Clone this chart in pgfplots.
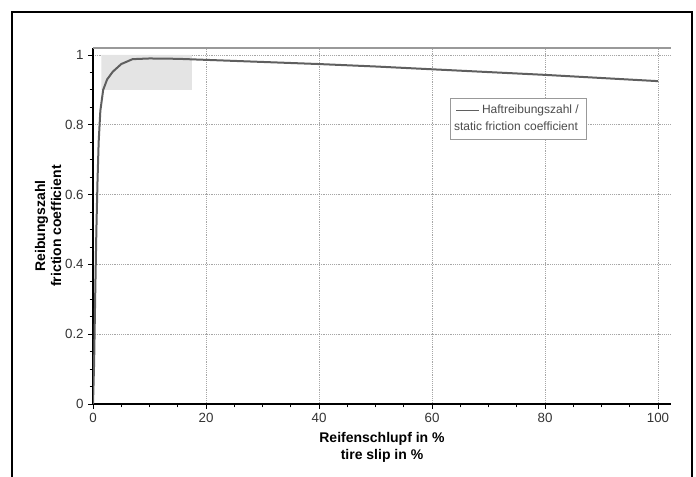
\documentclass[border=0pt]{standalone}
\usepackage{pgfplots}
\pgfplotsset{compat=1.18}
\usepackage{fontspec}
\setmainfont{Liberation Sans}
\definecolor{curve}{RGB}{95,95,95}
\definecolor{shade}{RGB}{228,228,228}
\begin{document}
\begin{tikzpicture}
\useasboundingbox (0,0) rectangle (522pt,357.75pt);
\draw[line width=0.9pt] (9pt,-10pt) -- (9pt,348.75pt) -- (519pt,348.75pt) -- (519pt,-10pt);
\begin{axis}[
  at={(69.75pt,54.75pt)}, anchor=south west,
  scale only axis, width=433.5pt, height=267pt,
  xmin=0, xmax=102.3, ymin=0, ymax=1.02,
  axis x line*=bottom, axis y line*=left,
  x axis line style={-, line width=1pt},
  y axis line style={-, line width=1.3pt},
  xtick={0,20,40,60,80,100},
  ytick={0,0.2,0.4,0.6,0.8,1},
  yticklabels={0,0.2,0.4,0.6,0.8,1},
  minor x tick num=3, minor y tick num=3,
  tick align=outside,
  major tick length=3.5pt, minor tick length=2.5pt,
  tick style={black, line width=0.6pt},
  grid=major,
  major grid style={densely dotted, gray!70, line width=0.6pt},
  /pgf/number format/assume math mode=true,
  ticklabel style={font=\fontsize{10}{12}\selectfont, text=black!80},
  xlabel={\textbf{Reifenschlupf in \%}\\\textbf{tire slip in \%}},
  ylabel={\textbf{Reibungszahl}\\\textbf{friction coefficient}},
  xlabel style={align=center, font=\fontsize{10.5}{12.5}\selectfont, yshift=-0.5pt},
  ylabel style={align=center, font=\fontsize{10.5}{12}\selectfont, yshift=-4pt},
  legend style={at={(0.855,0.86)}, anchor=north east, draw=gray!80, line width=0.6pt,
    font=\fontsize{9}{11}\selectfont, text=black!70, inner xsep=4pt, inner ysep=3pt,
    row sep=1pt},
  legend cell align=left,
  legend image post style={line width=0.8pt},
]
\addplot[fill=shade, draw=none, forget plot] coordinates {(1.5,0.9) (17.5,0.9) (17.5,1) (1.5,1) (1.5,0.9)};
\draw[gray!80, line width=0.8pt] (rel axis cs:0,1) -- (rel axis cs:1,1);
\addplot[curve, line width=1.5pt] coordinates {
(0,0.0) (0.2,0.12) (0.4,0.32) (0.6,0.5) (0.8,0.64) (1.0,0.75) (1.3,0.84) (1.8,0.9)
(2.5,0.93) (3.5,0.952) (5,0.974) (7,0.988) (10,0.99) (15,0.989) (20,0.986)
(30,0.98) (40,0.974) (50,0.967) (60,0.959) (70,0.951) (80,0.943) (90,0.934) (100,0.925)};
\addlegendentry{Haftreibungszahl /}
\addlegendimage{empty legend}
\addlegendentry{\hspace*{-21pt}static friction coefficient}
\end{axis}
\end{tikzpicture}
\end{document}
